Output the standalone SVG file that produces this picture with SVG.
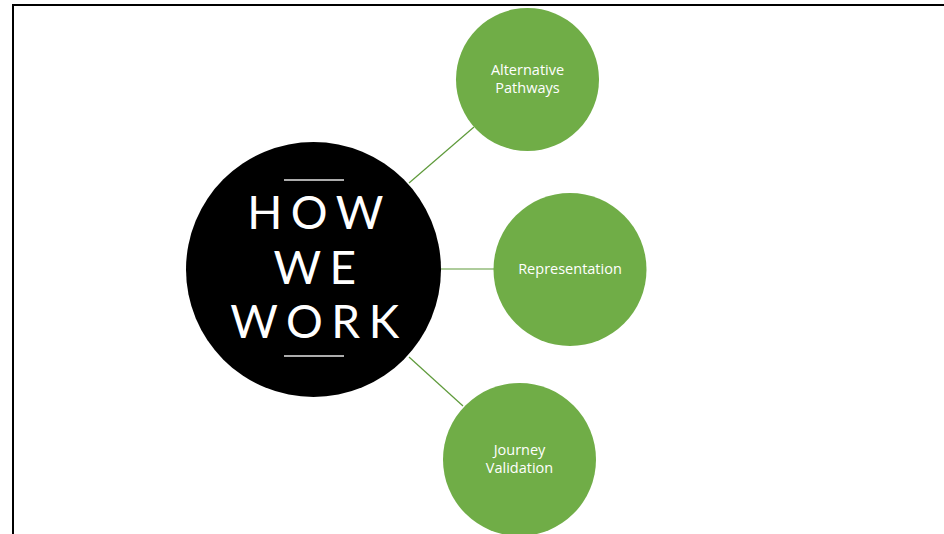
<svg xmlns="http://www.w3.org/2000/svg" width="944" height="534" viewBox="0 0 944 534">
  <style>
    .frame { fill: none; stroke: #000; stroke-width: 2; }
    .link { stroke: #5E9A3A; stroke-width: 1.2; fill: none; }
    .leaf { fill: #70AD47; }
    .leaf-label { fill: #fff; font-family: "Open Sans", "Liberation Sans", sans-serif; font-size: 14.5px; text-anchor: middle; }
    .hub-title { fill: #fff; font-family: "Lato", "Liberation Sans", sans-serif; font-size: 46px; font-weight: 400; text-anchor: middle; letter-spacing: 8.5px; }
    .rule { stroke: #e6e6e6; stroke-width: 1.5; }
  </style>
  <rect width="944" height="534" fill="#fff"/>
  <!-- page frame: top and left edges only -->
  <path class="frame" d="M13,534 V5 H944"/>

  <g id="connectors">
    <line class="link" x1="409" y1="183" x2="474" y2="127"/>
    <line class="link" x1="441" y1="269" x2="494" y2="269"/>
    <line class="link" x1="409" y1="357" x2="463" y2="406"/>
  </g>

  <g id="how-we-work">
    <circle cx="313.5" cy="269.5" r="127.5" fill="#000"/>
    <line class="rule" x1="284" y1="180" x2="344" y2="180"/>
    <text class="hub-title" x="319.5" y="229">HOW</text>
    <text class="hub-title" x="319" y="284">WE</text>
    <text class="hub-title" x="319" y="338">WORK</text>
    <line class="rule" x1="284" y1="356" x2="344" y2="356"/>
  </g>

  <g id="alternative-pathways">
    <circle class="leaf" cx="527.5" cy="79.5" r="71.5"/>
    <text class="leaf-label" x="527.5" y="75">Alternative</text>
    <text class="leaf-label" x="527.5" y="93">Pathways</text>
  </g>

  <g id="representation">
    <circle class="leaf" cx="570" cy="269.5" r="76.5"/>
    <text class="leaf-label" x="570" y="274">Representation</text>
  </g>

  <g id="journey-validation">
    <circle class="leaf" cx="519.5" cy="459.5" r="76.5"/>
    <text class="leaf-label" x="519.5" y="455">Journey</text>
    <text class="leaf-label" x="519.5" y="473">Validation</text>
  </g>
</svg>
